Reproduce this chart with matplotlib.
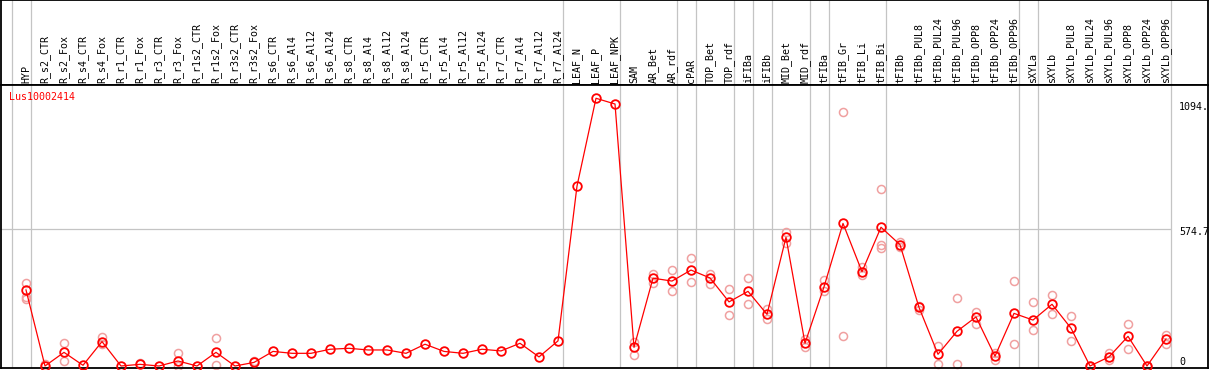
import matplotlib
matplotlib.use("Agg")
import matplotlib.pyplot as plt

gene = "Lus10002414"

categories = ["HYP", "R_s2_CTR", "R_s2_Fox", "R_s4_CTR", "R_s4_Fox", "R_r1_CTR", "R_r1_Fox",
              "R_r3_CTR", "R_r3_Fox", "R_r1s2_CTR", "R_r1s2_Fox", "R_r3s2_CTR", "R_r3s2_Fox",
              "R_s6_CTR", "R_s6_Al4", "R_s6_Al12", "R_s6_Al24", "R_s8_CTR", "R_s8_Al4",
              "R_s8_Al12", "R_s8_Al24", "R_r5_CTR", "R_r5_Al4", "R_r5_Al12", "R_r5_Al24",
              "R_r7_CTR", "R_r7_Al4", "R_r7_Al12", "R_r7_Al24", "LEAF_N", "LEAF_P", "LEAF_NPK",
              "SAM", "AR_Bet", "AR_rdf", "cPAR", "TOP_Bet", "TOP_rdf", "iFIBa", "iFIBb",
              "MID_Bet", "MID_rdf", "tFIBa", "tFIB_Gr", "tFIB_Li", "tFIB_Bi", "tFIBb",
              "tFIBb_PUL8", "tFIBb_PUL24", "tFIBb_PUL96", "tFIBb_OPP8", "tFIBb_OPP24",
              "tFIBb_OPP96", "sXYLa", "sXYLb", "sXYLb_PUL8", "sXYLb_PUL24", "sXYLb_PUL96",
              "sXYLb_OPP8", "sXYLb_OPP24", "sXYLb_OPP96"]

means = [318, 0, 57, 3, 102, 0, 7, 0, 21, 0, 57, 0, 15,
         61, 53, 53, 70, 74, 67, 67, 53, 91, 61, 53, 70, 63, 95, 38, 105,
         752, 1119, 1095,
         78, 367, 355, 401, 368, 268, 312, 216, 538, 95, 331, 596, 394, 580, 507,
         245, 49, 145, 205, 41, 220,
         192, 258, 158, 0, 38, 124, 0, 113]

reps = [[347, 290, 280], [8], [95, 21], [], [120, 91], [], [11], [], [53, 0], [], [116, 3], [], [22],
        [], [], [], [], [], [], [], [], [], [], [], [], [], [], [], [],
        [], [], [],
        [102, 46], [385, 346], [400, 312], [450, 350], [385, 344], [321, 212], [367, 258],
        [237, 195], [560, 515], [112, 81], [358, 315], [1063, 127], [415, 382],
        [739, 507, 492], [520, 499],
        [252, 234], [84, 10], [283, 10], [226, 177], [56, 25], [354, 91],
        [266, 149], [297, 216], [208, 103], [0, 0], [56, 25], [174, 71], [0, 0], [131, 91]]

# last category of each group (vertical separators)
group_ends = [-1, 0, 28, 31, 34, 35, 37, 38, 39, 41, 42, 45, 52, 53, 60]

y_ticks = [0, 574.7, 1094]
y_ticklabels = ["0", "574.7", "1094."]

W, H = 1209, 370
fig = plt.figure(figsize=(W / 100, H / 100), dpi=100)

px = 19.0
x0 = 26.0
xlim = ((1 - x0) / px, (1208 - x0) / px)
k = 574.7 / (366 - 228.5)
ylim = ((366 - 368) * k, (366 - 85) * k)

head = fig.add_axes([1 / W, (H - 85) / H, 1207 / W, 85 / H])
ax = fig.add_axes([1 / W, (H - 368) / H, 1207 / W, 283 / H])

mono = "DejaVu Sans Mono"
for a in (head, ax):
    a.set_xlim(*xlim)
    a.set_xticks([])
    a.set_yticks([])
    for s in a.spines.values():
        s.set_linewidth(1.3)
        s.set_color("black")
    for g in group_ends:
        a.axvline(g + 0.25, color="#c4c4c4", lw=0.9, zorder=0)

head.set_ylim(0, 85)
for i, c in enumerate(categories):
    head.text(i, 2, c, rotation=90, ha="center", va="bottom", fontsize=7.2,
              family=mono, color="black")

ax.set_ylim(*ylim)
ax.hlines(574.7, xlim[0], 60.25, color="#c4c4c4", lw=0.9, zorder=0)

for i, r in enumerate(reps):
    if r:
        ax.plot([i] * len(r), r, "o", ms=5.8, mfc="none", mec="#f0a0a0", mew=1.1,
                zorder=2, clip_on=False)

xs = list(range(len(categories)))
ax.plot(xs, means, "-", color="red", lw=0.9, zorder=3)
ax.plot(xs, means, "o", ms=6.2, mfc="none", mec="red", mew=1.3, zorder=4, clip_on=False)

ax.text((9 - x0) / px, (366 - 97) * k, gene, color="red", fontsize=7.2, family=mono,
        ha="left", va="center")

label_y = [361.7, 232, 107]
for t, ly in zip(y_ticklabels, label_y):
    ax.text((1179 - x0) / px, (366 - ly) * k, t, fontsize=7.2, family=mono,
            ha="left", va="center", color="black")

plt.savefig("out.png", dpi=100)
